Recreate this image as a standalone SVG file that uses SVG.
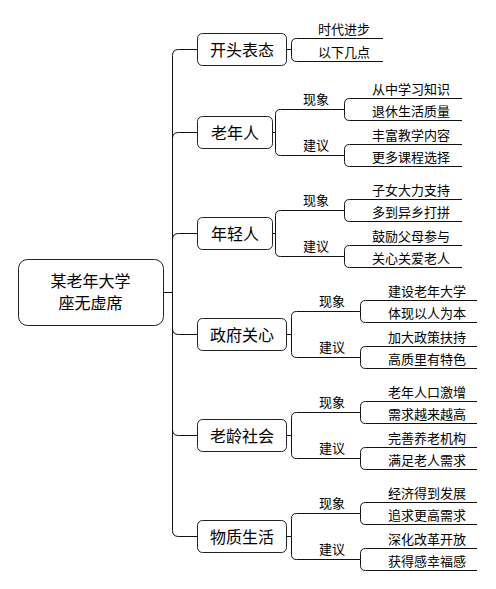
<svg xmlns="http://www.w3.org/2000/svg" width="496" height="589" viewBox="0 0 496 589">
<style>
  .box { fill: #ffffff; stroke: #222222; stroke-width: 1; }
  .ln { fill: none; stroke: #111111; stroke-width: 1; }
  .t { font-family: "Noto Sans CJK SC", "Noto Sans", sans-serif; fill: #000000; text-anchor: middle; }
  .root { font-size: 16px; }
  .main { font-size: 16px; }
  .lab { font-size: 13px; }
  .leaf { font-size: 13px; }
</style>
<rect width="496" height="589" fill="#ffffff"/>

<g id="connectors">
  <!-- root stub and trunk -->
  <path class="ln" d="M163.5,292.5 H172.5"/>
  <path class="ln" d="M172.5,292.5 V55.5 Q172.5,49.5 178.5,49.5 H197.5"/>
  <path class="ln" d="M172.5,292.5 V138.5 Q172.5,132.5 178.5,132.5 H197.5"/>
  <path class="ln" d="M172.5,292.5 V239.5 Q172.5,233.5 178.5,233.5 H197.5"/>
  <path class="ln" d="M172.5,292.5 V328.5 Q172.5,334.5 178.5,334.5 H197.5"/>
  <path class="ln" d="M172.5,292.5 V429.5 Q172.5,435.5 178.5,435.5 H197.5"/>
  <path class="ln" d="M172.5,292.5 V530.5 Q172.5,536.5 178.5,536.5 H197.5"/>

  <!-- 开头表态 -->
  <path class="ln" d="M286.5,49.5 H291.5"/>
  <path class="ln" d="M291.5,49.5 V43.5 Q291.5,38.5 296.5,38.5"/>
  <path class="ln" d="M291.5,49.5 V56.5 Q291.5,61.5 296.5,61.5"/>

  <!-- 老年人 -->
  <path class="ln" d="M272.5,132.5 H275.5"/>
  <path class="ln" d="M275.5,132.5 V114.5 Q275.5,109.5 280.5,109.5"/>
  <path class="ln" d="M275.5,132.5 V150.5 Q275.5,155.5 280.5,155.5"/>
  <path class="ln" d="M344.5,109.5 V103.5 Q344.5,98.5 349.5,98.5"/>
  <path class="ln" d="M344.5,109.5 V115.5 Q344.5,120.5 349.5,120.5"/>
  <path class="ln" d="M344.5,155.5 V149.5 Q344.5,144.5 349.5,144.5"/>
  <path class="ln" d="M344.5,155.5 V161.5 Q344.5,166.5 349.5,166.5"/>

  <!-- 年轻人 -->
  <path class="ln" d="M272.5,233.5 H275.5"/>
  <path class="ln" d="M275.5,233.5 V215.5 Q275.5,210.5 280.5,210.5"/>
  <path class="ln" d="M275.5,233.5 V251.5 Q275.5,256.5 280.5,256.5"/>
  <path class="ln" d="M344.5,210.5 V204.5 Q344.5,199.5 349.5,199.5"/>
  <path class="ln" d="M344.5,210.5 V216.5 Q344.5,221.5 349.5,221.5"/>
  <path class="ln" d="M344.5,256.5 V250.5 Q344.5,245.5 349.5,245.5"/>
  <path class="ln" d="M344.5,256.5 V262.5 Q344.5,267.5 349.5,267.5"/>

  <!-- 政府关心 -->
  <path class="ln" d="M286.5,334.5 H291.5"/>
  <path class="ln" d="M291.5,334.5 V316.5 Q291.5,311.5 296.5,311.5"/>
  <path class="ln" d="M291.5,334.5 V352.5 Q291.5,357.5 296.5,357.5"/>
  <path class="ln" d="M360.5,311.5 V305.5 Q360.5,300.5 365.5,300.5"/>
  <path class="ln" d="M360.5,311.5 V317.5 Q360.5,322.5 365.5,322.5"/>
  <path class="ln" d="M360.5,357.5 V351.5 Q360.5,346.5 365.5,346.5"/>
  <path class="ln" d="M360.5,357.5 V363.5 Q360.5,368.5 365.5,368.5"/>

  <!-- 老龄社会 -->
  <path class="ln" d="M286.5,435.5 H291.5"/>
  <path class="ln" d="M291.5,435.5 V417.5 Q291.5,412.5 296.5,412.5"/>
  <path class="ln" d="M291.5,435.5 V453.5 Q291.5,458.5 296.5,458.5"/>
  <path class="ln" d="M360.5,412.5 V406.5 Q360.5,401.5 365.5,401.5"/>
  <path class="ln" d="M360.5,412.5 V418.5 Q360.5,423.5 365.5,423.5"/>
  <path class="ln" d="M360.5,458.5 V452.5 Q360.5,447.5 365.5,447.5"/>
  <path class="ln" d="M360.5,458.5 V464.5 Q360.5,469.5 365.5,469.5"/>

  <!-- 物质生活 -->
  <path class="ln" d="M286.5,536.5 H291.5"/>
  <path class="ln" d="M291.5,536.5 V518.5 Q291.5,513.5 296.5,513.5"/>
  <path class="ln" d="M291.5,536.5 V554.5 Q291.5,559.5 296.5,559.5"/>
  <path class="ln" d="M360.5,513.5 V507.5 Q360.5,502.5 365.5,502.5"/>
  <path class="ln" d="M360.5,513.5 V519.5 Q360.5,524.5 365.5,524.5"/>
  <path class="ln" d="M360.5,559.5 V553.5 Q360.5,548.5 365.5,548.5"/>
  <path class="ln" d="M360.5,559.5 V565.5 Q360.5,570.5 365.5,570.5"/>
</g>

<!-- root -->
<g id="root">
  <rect class="box" x="18.5" y="259.5" width="145" height="66" rx="9"/>
  <text class="t root" x="90.5" y="287">某老年大学</text>
  <text class="t root" x="90.5" y="309">座无虚席</text>
</g>

<!-- main nodes -->
<g id="n-kaitou">
  <rect class="box" x="197.5" y="33.5" width="89" height="32" rx="5"/>
  <text class="t main" x="242" y="55.5">开头表态</text>
</g>
<g id="n-laonianren">
  <rect class="box" x="197.5" y="116.5" width="75" height="32" rx="5"/>
  <text class="t main" x="235" y="138.5">老年人</text>
</g>
<g id="n-nianqingren">
  <rect class="box" x="197.5" y="217.5" width="75" height="32" rx="5"/>
  <text class="t main" x="235" y="239.5">年轻人</text>
</g>
<g id="n-zhengfu">
  <rect class="box" x="197.5" y="318.5" width="89" height="32" rx="5"/>
  <text class="t main" x="242" y="340.5">政府关心</text>
</g>
<g id="n-laoling">
  <rect class="box" x="197.5" y="419.5" width="89" height="32" rx="5"/>
  <text class="t main" x="242" y="441.5">老龄社会</text>
</g>
<g id="n-wuzhi">
  <rect class="box" x="197.5" y="520.5" width="89" height="32" rx="5"/>
  <text class="t main" x="242" y="542.5">物质生活</text>
</g>

<!-- 开头表态 leaves -->
<g id="l-kaitou-1"><path class="ln" d="M296.5,38.5 H383"/><text class="t leaf" x="344" y="33.5">时代进步</text></g>
<g id="l-kaitou-2"><path class="ln" d="M296.5,61.5 H383"/><text class="t leaf" x="344" y="56.5">以下几点</text></g>

<!-- 老年人 -->
<g id="lab-lnr-1"><path class="ln" d="M280.5,109.5 H344.5"/><text class="t lab" x="316" y="104">现象</text></g>
<g id="lab-lnr-2"><path class="ln" d="M280.5,155.5 H344.5"/><text class="t lab" x="316" y="150">建议</text></g>
<g id="l-lnr-1"><path class="ln" d="M349.5,98.5 H462"/><text class="t leaf" x="411" y="93.5">从中学习知识</text></g>
<g id="l-lnr-2"><path class="ln" d="M349.5,120.5 H462"/><text class="t leaf" x="411" y="115.5">退休生活质量</text></g>
<g id="l-lnr-3"><path class="ln" d="M349.5,144.5 H462"/><text class="t leaf" x="411" y="139.5">丰富教学内容</text></g>
<g id="l-lnr-4"><path class="ln" d="M349.5,166.5 H462"/><text class="t leaf" x="411" y="161.5">更多课程选择</text></g>

<!-- 年轻人 -->
<g id="lab-nqr-1"><path class="ln" d="M280.5,210.5 H344.5"/><text class="t lab" x="316" y="205">现象</text></g>
<g id="lab-nqr-2"><path class="ln" d="M280.5,256.5 H344.5"/><text class="t lab" x="316" y="251">建议</text></g>
<g id="l-nqr-1"><path class="ln" d="M349.5,199.5 H462"/><text class="t leaf" x="411" y="194.5">子女大力支持</text></g>
<g id="l-nqr-2"><path class="ln" d="M349.5,221.5 H462"/><text class="t leaf" x="411" y="216.5">多到异乡打拼</text></g>
<g id="l-nqr-3"><path class="ln" d="M349.5,245.5 H462"/><text class="t leaf" x="411" y="240.5">鼓励父母参与</text></g>
<g id="l-nqr-4"><path class="ln" d="M349.5,267.5 H462"/><text class="t leaf" x="411" y="262.5">关心关爱老人</text></g>

<!-- 政府关心 -->
<g id="lab-zf-1"><path class="ln" d="M296.5,311.5 H360.5"/><text class="t lab" x="332" y="306">现象</text></g>
<g id="lab-zf-2"><path class="ln" d="M296.5,357.5 H360.5"/><text class="t lab" x="332" y="352">建议</text></g>
<g id="l-zf-1"><path class="ln" d="M365.5,300.5 H477"/><text class="t leaf" x="427" y="295.5">建设老年大学</text></g>
<g id="l-zf-2"><path class="ln" d="M365.5,322.5 H477"/><text class="t leaf" x="427" y="317.5">体现以人为本</text></g>
<g id="l-zf-3"><path class="ln" d="M365.5,346.5 H477"/><text class="t leaf" x="427" y="341.5">加大政策扶持</text></g>
<g id="l-zf-4"><path class="ln" d="M365.5,368.5 H477"/><text class="t leaf" x="427" y="363.5">高质里有特色</text></g>

<!-- 老龄社会 -->
<g id="lab-ll-1"><path class="ln" d="M296.5,412.5 H360.5"/><text class="t lab" x="332" y="407">现象</text></g>
<g id="lab-ll-2"><path class="ln" d="M296.5,458.5 H360.5"/><text class="t lab" x="332" y="453">建议</text></g>
<g id="l-ll-1"><path class="ln" d="M365.5,401.5 H477"/><text class="t leaf" x="427" y="396.5">老年人口激增</text></g>
<g id="l-ll-2"><path class="ln" d="M365.5,423.5 H477"/><text class="t leaf" x="427" y="418.5">需求越来越高</text></g>
<g id="l-ll-3"><path class="ln" d="M365.5,447.5 H477"/><text class="t leaf" x="427" y="442.5">完善养老机构</text></g>
<g id="l-ll-4"><path class="ln" d="M365.5,469.5 H477"/><text class="t leaf" x="427" y="464.5">满足老人需求</text></g>

<!-- 物质生活 -->
<g id="lab-wz-1"><path class="ln" d="M296.5,513.5 H360.5"/><text class="t lab" x="332" y="508">现象</text></g>
<g id="lab-wz-2"><path class="ln" d="M296.5,559.5 H360.5"/><text class="t lab" x="332" y="554">建议</text></g>
<g id="l-wz-1"><path class="ln" d="M365.5,502.5 H477"/><text class="t leaf" x="427" y="497.5">经济得到发展</text></g>
<g id="l-wz-2"><path class="ln" d="M365.5,524.5 H477"/><text class="t leaf" x="427" y="519.5">追求更高需求</text></g>
<g id="l-wz-3"><path class="ln" d="M365.5,548.5 H477"/><text class="t leaf" x="427" y="543.5">深化改革开放</text></g>
<g id="l-wz-4"><path class="ln" d="M365.5,570.5 H477"/><text class="t leaf" x="427" y="565.5">获得感幸福感</text></g>
</svg>
